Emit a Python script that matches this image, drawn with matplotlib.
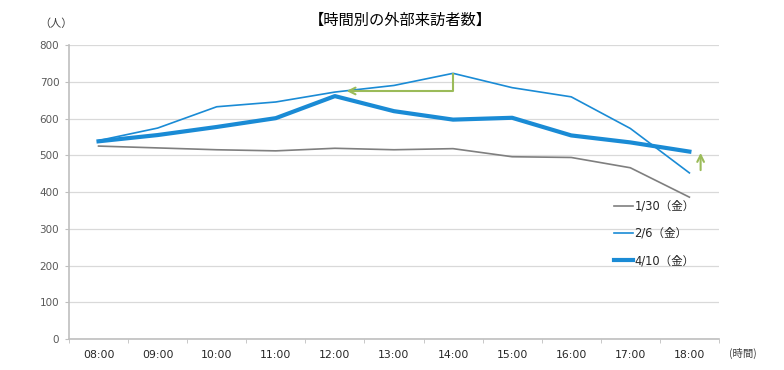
import matplotlib
matplotlib.use("Agg")
import matplotlib.pyplot as plt

plt.rcParams['font.family'] = ['Noto Sans CJK JP', 'DejaVu Sans']

hours = ["08:00", "09:00", "10:00", "11:00", "12:00", "13:00",
         "14:00", "15:00", "16:00", "17:00", "18:00"]
visitors_0130 = [525, 520, 515, 512, 519, 515, 518, 496, 494, 466, 386]
visitors_0206 = [540, 574, 632, 645, 672, 690, 723, 684, 659, 573, 452]
visitors_0410 = [538, 555, 577, 601, 661, 620, 597, 602, 554, 535, 510]
series_labels = ["1/30（金）", "2/6（金）", "4/10（金）"]
yticks = [0, 100, 200, 300, 400, 500, 600, 700, 800]

# annotation arrows (data coords)
peak_arrow = (6, 723, 675, 4.15)     # x, top, y, x_end
rise_arrow = (10.19, 452, 514)       # x, from, to

GRAY = "#7f7f7f"
BLUE = "#1a8bd5"
GREEN = "#9bbb59"

fig = plt.figure(figsize=(7.84, 3.70), dpi=100)
ax = fig.add_axes([0.088, 0.0838, 0.829, 0.7945])

x = list(range(len(hours)))
ax.plot(x, visitors_0130, color=GRAY, lw=1.2, label=series_labels[0])
ax.plot(x, visitors_0206, color=BLUE, lw=1.2, label=series_labels[1])
ax.plot(x, visitors_0410, color=BLUE, lw=3.0, label=series_labels[2])

ax.set_xlim(-0.5, len(hours) - 0.5)
ax.set_ylim(0, 800)
ax.set_yticks(yticks)
ax.set_yticklabels([str(v) for v in yticks], family='DejaVu Sans', fontsize=7.5, color='#595959')
ax.set_xticks(x)
ax.set_xticklabels(hours, family='DejaVu Sans', fontsize=7.8, color='#262626')
ax.set_xticks([i - 0.5 for i in range(len(hours) + 1)], minor=True)
ax.tick_params(axis='x', which='major', length=0, pad=8)
ax.tick_params(axis='x', which='minor', length=3, color='#bfbfbf', direction='out')
ax.tick_params(axis='y', length=3, color='#bfbfbf', pad=4)

ax.grid(axis='y', color='#d9d9d9', lw=0.9)
ax.set_axisbelow(True)
for s in ['top', 'right']:
    ax.spines[s].set_visible(False)
for s in ['left', 'bottom']:
    ax.spines[s].set_color('#bfbfbf')
    ax.spines[s].set_linewidth(1.2)

# green arrows
px, ptop, py, pend = peak_arrow
ax.plot([px, px, pend + 0.1], [ptop, py, py], color=GREEN, lw=1.5, solid_capstyle='butt')
ax.annotate("", xy=(pend, py), xytext=(pend + 0.3, py),
            arrowprops=dict(arrowstyle='->', color=GREEN, lw=1.5, mutation_scale=12))
rx, r0, r1 = rise_arrow
ax.annotate("", xy=(rx, r1), xytext=(rx, r0),
            arrowprops=dict(arrowstyle='->', color=GREEN, lw=1.5, mutation_scale=12))

leg = ax.legend(loc='upper left', bbox_to_anchor=(0.831, 0.49), frameon=False,
                prop={'family': ['DejaVu Sans', 'Noto Sans CJK JP'], 'size': 8.3},
                handlelength=1.7, handletextpad=0.1, labelspacing=1.25,
                borderaxespad=0)
for t in leg.get_texts():
    t.set_color('#262626')

fig.text(0.511, 0.945, "【時間別の外部来訪者数】", ha='center', va='center', fontsize=11, color='#000000')
fig.text(0.072, 0.935, "（人）", ha='center', va='center', fontsize=8, color='#404040')
fig.text(0.947, 0.045, "(時間)", ha='center', va='center', fontsize=7.5, color='#404040')

fig.savefig("out.png", dpi=100)
